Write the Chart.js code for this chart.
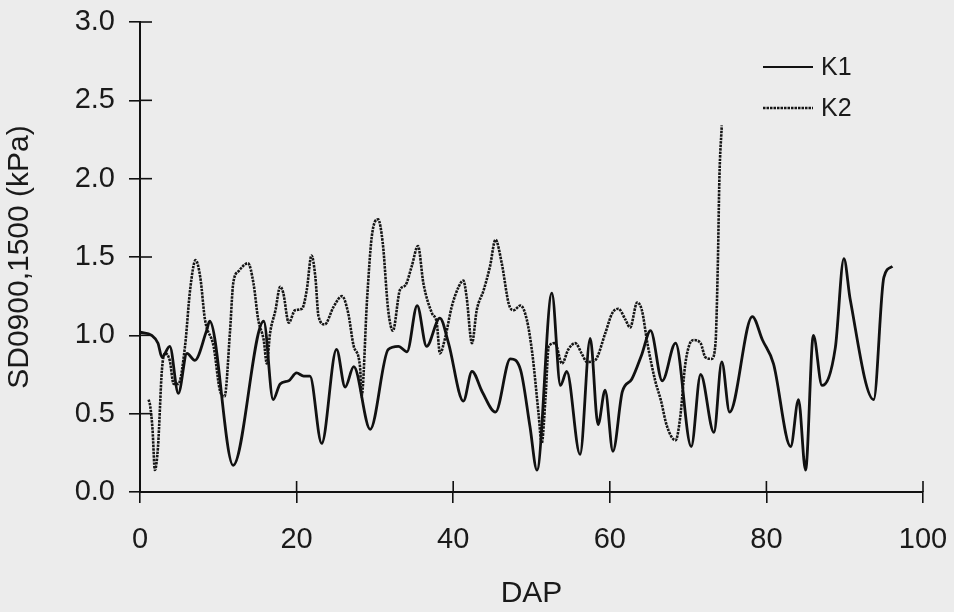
<!DOCTYPE html>
<html>
<head>
<meta charset="utf-8">
<script src="https://cdn.jsdelivr.net/npm/chart.js@4/dist/chart.umd.min.js"></script>
<style>
html,body{margin:0;padding:0;background:#ececec;}
#wrap{width:954px;height:612px;}
</style>
</head>
<body>
<div id="wrap"><canvas id="c" width="954" height="612"></canvas></div>
<script>
// ---- data ----
const k1X = [0,1.5,2.3,2.8,3.8,4.9,6.0,7.0,8.5,8.9,11.9,15.8,17.0,17.9,19.0,20.0,20.9,21.7,23.2,25.1,26.2,27.3,29.4,31.7,33.0,34.1,35.4,36.6,38.3,39.4,41.3,42.4,43.7,45.4,47.3,48.6,49.8,50.7,52.6,53.7,54.5,56.2,57.5,58.5,59.4,60.4,61.6,62.8,64.1,65.2,66.7,68.4,70.4,71.6,73.3,74.3,75.3,78.2,79.5,80.9,83.1,84.1,85.0,86.0,87.1,88.8,89.9,90.7,93.7,95.0,96.1];
const k1Y = [1.02,1.00,0.95,0.86,0.93,0.63,0.885,0.84,1.03,1.09,0.17,1.09,0.59,0.69,0.71,0.76,0.74,0.74,0.31,0.91,0.67,0.80,0.40,0.91,0.93,0.895,1.19,0.93,1.11,0.95,0.58,0.77,0.64,0.51,0.85,0.78,0.42,0.14,1.27,0.68,0.77,0.24,0.98,0.43,0.65,0.26,0.64,0.72,0.88,1.03,0.71,0.95,0.29,0.75,0.38,0.83,0.51,1.12,0.97,0.82,0.29,0.59,0.14,1.00,0.68,0.92,1.49,1.23,0.59,1.37,1.44];

const k2X = [1.1,1.3,1.6,1.9,2.3,2.8,3.2,3.8,4.3,4.9,5.75,6.4,7.1,7.7,8.3,9.4,10.2,10.8,11.5,11.9,12.6,13.8,14.5,15.1,15.8,16.2,16.6,17.3,17.9,18.3,19.0,19.8,20.7,21.3,21.9,22.4,22.8,23.6,24.7,25.8,26.6,27.3,28.1,28.3,29.0,29.6,30.4,31.0,31.7,32.3,33.2,33.9,34.7,35.5,36.2,37.3,37.9,38.3,39.0,39.8,40.7,41.3,41.7,42.4,43.0,43.9,44.7,45.4,46.2,47.1,47.7,48.6,49.4,50.1,50.9,51.3,51.8,52.2,53.0,53.9,54.7,55.6,56.4,57.1,58.1,59.4,60.3,61.1,62.0,62.6,63.5,64.1,64.8,65.8,66.5,67.3,68.4,69.0,69.6,70.1,70.7,71.6,72.2,73.0,73.5,73.8,74.0,74.3];
const k2Y = [0.59,0.55,0.40,0.14,0.29,0.78,0.885,0.84,0.69,0.69,0.93,1.29,1.48,1.37,1.10,0.93,0.65,0.61,1.03,1.33,1.41,1.46,1.33,1.10,0.97,0.82,1.01,1.16,1.31,1.27,1.08,1.16,1.17,1.29,1.51,1.37,1.12,1.07,1.18,1.25,1.14,0.93,0.80,0.61,1.23,1.63,1.74,1.59,1.16,1.03,1.29,1.32,1.44,1.57,1.33,1.14,1.08,0.885,0.99,1.18,1.31,1.35,1.25,0.95,1.16,1.29,1.44,1.61,1.46,1.20,1.16,1.19,1.10,0.885,0.50,0.31,0.61,0.93,0.95,0.82,0.91,0.95,0.885,0.83,0.84,1.01,1.14,1.17,1.10,1.05,1.21,1.16,0.95,0.71,0.59,0.42,0.33,0.48,0.80,0.93,0.97,0.95,0.86,0.85,0.95,1.46,2.01,2.34];

const seriesNames = ['K1','K2'];
const xTicks = [0,20,40,60,80,100];
const yTicks = [0,0.5,1.0,1.5,2.0,2.5,3.0];
const xTitle = 'DAP';
const yTitle = 'SD0900,1500 (kPa)';

const toPts = (xs, ys) => xs.map((x, i) => ({x, y: ys[i]}));

const INK = '#111111';
const FONT = "'Liberation Sans', Arial, sans-serif";

const innerTicks = {
  id: 'innerTicks',
  afterDraw(chart) {
    const {ctx, chartArea: a, scales: {x, y}} = chart;
    ctx.save();
    ctx.strokeStyle = INK;
    ctx.lineWidth = 1.6;
    x.ticks.forEach(t => {
      const p = x.getPixelForValue(t.value);
      ctx.beginPath(); ctx.moveTo(p, a.bottom); ctx.lineTo(p, a.bottom - 11); ctx.stroke();
    });
    y.ticks.forEach(t => {
      const p = y.getPixelForValue(t.value);
      ctx.beginPath(); ctx.moveTo(a.left, p); ctx.lineTo(a.left + 12, p); ctx.stroke();
    });
    ctx.restore();
  }
};

const legendPlugin = {
  id: 'customLegend',
  afterDraw(chart) {
    const {ctx, chartArea: a} = chart;
    const x0 = a.right - 160, len = 50;
    const rows = [a.top + 45, a.top + 86];
    ctx.save();
    chart.data.datasets.forEach((ds, i) => {
      ctx.strokeStyle = ds.borderColor;
      ctx.lineWidth = i === 0 ? 2 : 2.4;
      ctx.setLineDash(ds.borderDash || []);
      ctx.beginPath(); ctx.moveTo(x0, rows[i]); ctx.lineTo(x0 + len, rows[i]); ctx.stroke();
      ctx.setLineDash([]);
      ctx.fillStyle = '#1a1a1a';
      ctx.font = '25px ' + FONT;
      ctx.textBaseline = 'middle';
      ctx.textAlign = 'left';
      ctx.fillText(ds.label, x0 + len + 8, rows[i] + 1);
    });
    ctx.restore();
  }
};

new Chart(document.getElementById('c'), {
  type: 'line',
  data: {
    datasets: [
      {label: seriesNames[0], data: toPts(k1X, k1Y), borderColor: INK, borderWidth: 2.8,
       pointRadius: 0, fill: false, cubicInterpolationMode: 'monotone'},
      {label: seriesNames[1], data: toPts(k2X, k2Y), borderColor: '#161616', borderWidth: 2.6,
       borderDash: [2.5, 1], pointRadius: 0, fill: false, cubicInterpolationMode: 'monotone'}
    ]
  },
  options: {
    responsive: false,
    animation: false,
    devicePixelRatio: 1,
    layout: {padding: {top: 22, right: 31, left: 0, bottom: 0}},
    plugins: {legend: {display: false}, tooltip: {enabled: false}},
    scales: {
      x: {
        type: 'linear', min: 0, max: 100,
        afterBuildTicks: s => { s.ticks = xTicks.map(v => ({value: v})); },
        afterFit: s => { s.height = 120; s.paddingLeft = 0; s.paddingRight = 0; },
        grid: {drawOnChartArea: false, drawTicks: true, tickLength: 11, color: INK, lineWidth: 1.6},
        border: {display: true, color: INK, width: 2},
        ticks: {color: '#1a1a1a', font: {family: FONT, size: 29}, padding: 20, maxRotation: 0, autoSkip: false},
        title: {display: true, text: xTitle, color: '#1a1a1a', font: {family: FONT, size: 30}, padding: {top: 0, bottom: 0}}
      },
      y: {
        type: 'linear', min: 0, max: 3,
        afterBuildTicks: s => { s.ticks = yTicks.map(v => ({value: v})); },
        afterFit: s => { s.width = 140; s.paddingTop = 0; s.paddingBottom = 0; },
        grid: {drawOnChartArea: false, drawTicks: true, tickLength: 11, color: INK, lineWidth: 1.6},
        border: {display: true, color: INK, width: 2},
        ticks: {color: '#1a1a1a', font: {family: FONT, size: 29}, padding: 14, callback: v => v.toFixed(1)},
        title: {display: true, text: yTitle, color: '#1a1a1a', font: {family: FONT, size: 30}, padding: {top: 2, bottom: 0}}
      }
    }
  },
  plugins: [innerTicks, legendPlugin]
});
</script>
</body>
</html>
